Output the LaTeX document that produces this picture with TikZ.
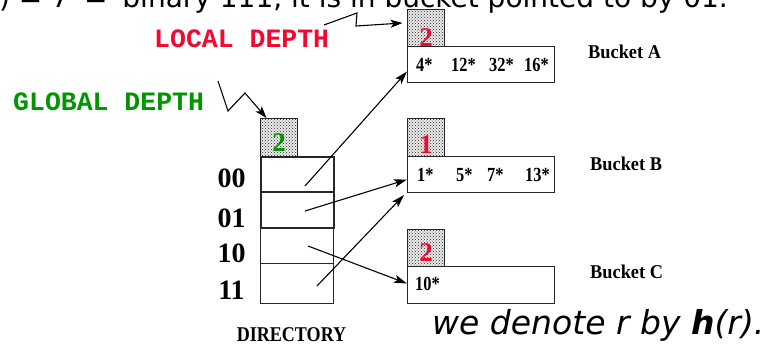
\documentclass[tikz,border=0pt]{standalone}
\usepackage{fontspec}
\setmainfont{Liberation Serif}
\setmonofont{Liberation Mono}
\newfontfamily\slidesans{DejaVu Sans}
\usetikzlibrary{patterns,arrows.meta,calc}
\definecolor{depthred}{RGB}{240,10,50}
\definecolor{depthgreen}{RGB}{0,150,0}
\newcommand\fsz[1]{\fontsize{#1}{#1}\selectfont}
\newcommand\squeeze[2]{\scalebox{#1}[1]{#2}}

\begin{document}
\begin{tikzpicture}[x=1pt,y=-1pt,
  box/.style={draw=black!85, line width=1pt, inner sep=0pt, anchor=north west},
  depthbox/.style={box, fill=black!8, postaction={pattern=crosshatch dots, pattern color=black!85}, minimum width=37pt},
  cell/.style={box, minimum width=73pt},
  heavycell/.style={cell, line width=1.7pt},
  bucket/.style={box, minimum width=147pt},
  ptr/.style={line width=1.1pt, -{Stealth[length=13pt,width=8pt,inset=3pt]}},
  callout/.style={line width=1.1pt, -{Stealth[length=12pt,width=8pt,inset=3pt]}},
  num/.style={font=\fsz{27}\bfseries, inner sep=0pt, anchor=base},
  entry/.style={font=\fsz{20}\bfseries, inner sep=0pt, anchor=base west},
  rowlabel/.style={font=\fsz{28}\bfseries, inner sep=0pt, anchor=base},
  bucketname/.style={font=\fsz{19.5}\bfseries, inner sep=0pt, anchor=base west},
  depthtag/.style={font=\ttfamily\bfseries\fsz{26.5}, inner sep=0pt, anchor=base west},
]
\useasboundingbox (0,0) rectangle (764,349);
\clip (0,0) rectangle (764,349);

% running text of the slide
\node[font=\slidesans\fsz{28}, inner sep=0pt, anchor=base west] (topline) at (-1,7.5)
  {) = 7 \kern6pt=\kern6pt{} binary 111, it is in bucket pointed to by 01.};
\node[font=\slidesans\fsz{33}\itshape, inner sep=0pt, anchor=base west] (note) at (432,334)
  {we denote r by \textbf{h}(r).};

% directory
\node[depthbox, minimum height=38pt] (gd) at (260,118) {};
\node[num, text=depthgreen] (gdn) at ([yshift=6pt]gd.south) {2};
\node[cell, minimum height=36pt] (c10) at (260,227) {};
\node[cell, minimum height=40pt] (c11) at (260,263) {};
\node[heavycell, minimum height=35pt] (c00) at (260,156) {};
\node[heavycell, minimum height=36pt] (c01) at (260,191) {};

\node[rowlabel] (l00) at (231.5,187) {00};
\node[rowlabel] (l01) at (231.5,227) {01};
\node[rowlabel] (l10) at (231.5,262) {10};
\node[rowlabel] (l11) at (231.5,299) {11};

\node[font=\fsz{21}\bfseries, inner sep=0pt, anchor=base] (dirname) at (291.5,341)
  {\squeeze{0.86}{DIRECTORY}};

% bucket A
\node[depthbox, minimum height=37pt] (ldA) at (407,9) {};
\node[num, text=depthred] (ldAn) at ([yshift=1pt]ldA.south) {2};
\node[bucket, minimum height=36pt] (bA) at (407,46) {};
\node[entry] (a1) at (416,71) {\squeeze{0.82}{4*}};
\node[entry] (a2) at (451,71) {\squeeze{0.82}{12*}};
\node[entry] (a3) at (489,71) {\squeeze{0.82}{32*}};
\node[entry] (a4) at (524,71) {\squeeze{0.82}{16*}};
\node[bucketname] (nA) at (588,58) {\squeeze{0.94}{Bucket A}};

% bucket B
\node[depthbox, minimum height=38pt] (ldB) at (407,118) {};
\node[num, text=depthred] (ldBn) at ([yshift=4pt]ldB.south) {1};
\node[bucket, minimum height=36pt] (bB) at (407,156) {};
\node[entry] (b1) at (417,181) {\squeeze{0.82}{1*}};
\node[entry] (b2) at (456,181) {\squeeze{0.82}{5*}};
\node[entry] (b3) at (487,181) {\squeeze{0.82}{7*}};
\node[entry] (b4) at (525,181) {\squeeze{0.82}{13*}};
\node[bucketname] (nB) at (590,170) {\squeeze{0.94}{Bucket B}};

% bucket C
\node[depthbox, minimum height=37pt] (ldC) at (407,229) {};
\node[num, text=depthred] (ldCn) at ([yshift=6pt]ldC.south) {2};
\node[bucket, minimum height=37pt] (bC) at (407,266) {};
\node[entry] (c1) at (415,290) {\squeeze{0.82}{10*}};
\node[bucketname] (nC) at (590,278) {\squeeze{0.94}{Bucket C}};

% directory pointers
\coordinate (p00) at (305,186);
\coordinate (p01) at (305,211);
\coordinate (p10) at (308,246);
\coordinate (p11) at (317,286);
\draw[ptr] (p00) -- ([yshift=-7pt]bA.west);
\draw[ptr] (p01) -- ([yshift=-5pt]bB.west);
\draw[ptr] (p10) -- ([yshift=1.5pt]bC.west);
\draw[ptr] (p11) -- ([xshift=-3pt,yshift=-2pt]bB.south west);

% depth callouts
\node[depthtag, text=depthred] (local) at (154,47) {LOCAL DEPTH};
\node[depthtag, text=depthgreen] (global) at (13,110) {GLOBAL DEPTH};
\coordinate (lz1) at (324,25);
\coordinate (lz2) at (357,13);
\coordinate (lz3) at (356,26);
\draw[callout] (lz1) -- (lz2) -- (lz3) -- ([xshift=-4.5pt,yshift=5pt]ldA.west);
\coordinate (gz1) at (218,81);
\coordinate (gz2) at (228,111);
\coordinate (gz3) at (245,93);
\draw[callout] (gz1) -- (gz2) -- (gz3) -- ([xshift=-12.5pt]gd.north);
\end{tikzpicture}
\end{document}
